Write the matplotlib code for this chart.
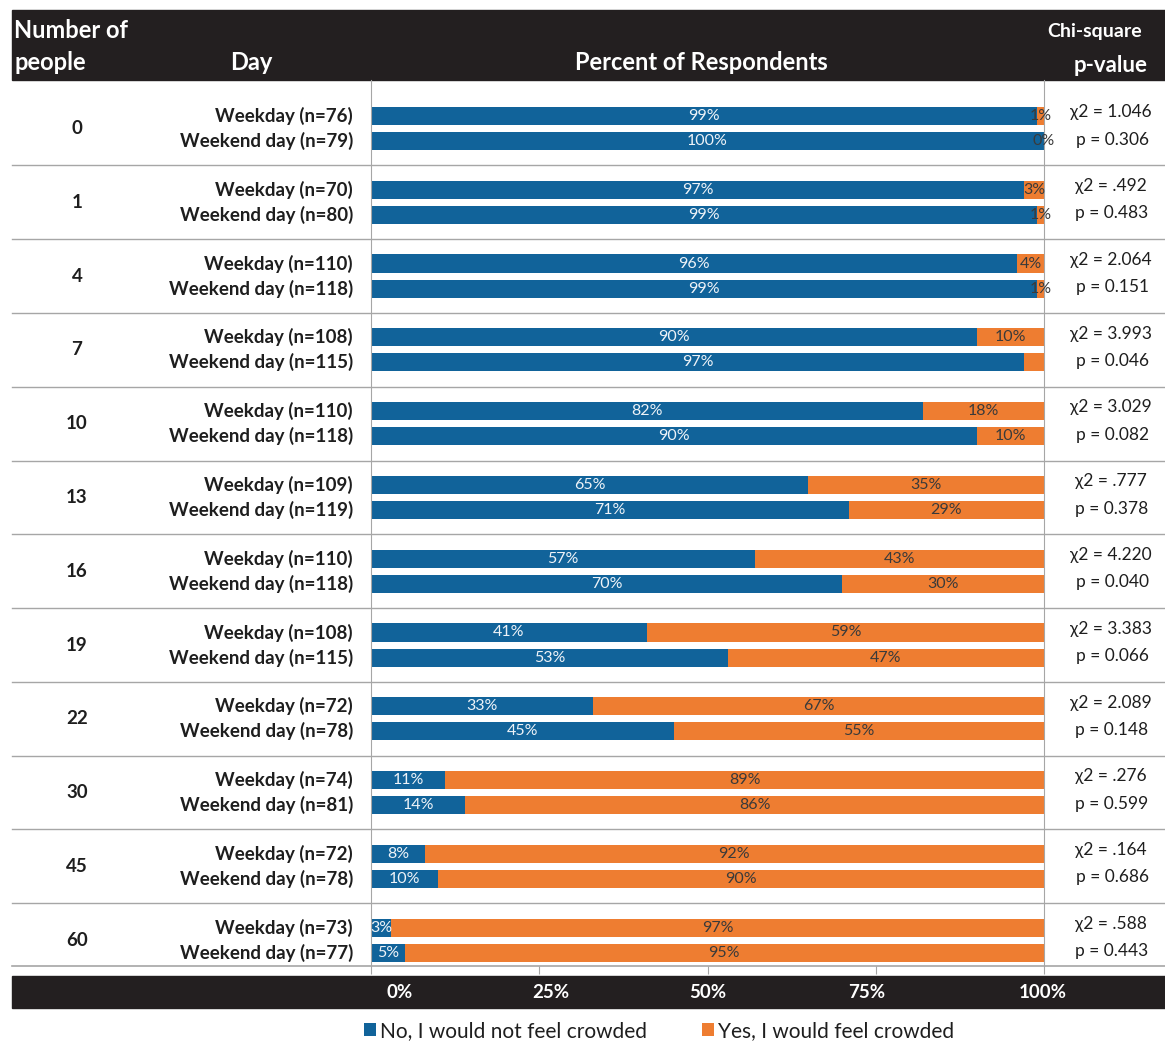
"""Crowding perception by number of people, weekday vs weekend."""
import matplotlib
matplotlib.use("Agg")
import matplotlib.pyplot as plt
from matplotlib import rcParams
from matplotlib import transforms
from matplotlib.patches import Rectangle

# ---- data -------------------------------------------------------------
people = ["0", "1", "4", "7", "10", "13", "16", "19", "22", "30", "45", "60"]
weekday_n = [76, 70, 110, 108, 110, 109, 110, 108, 72, 74, 72, 73]
weekend_n = [79, 80, 118, 115, 118, 119, 118, 115, 78, 81, 78, 77]
weekday_no = [99, 97, 96, 90, 82, 65, 57, 41, 33, 11, 8, 3]
weekday_yes = [1, 3, 4, 10, 18, 35, 43, 59, 67, 89, 92, 97]
weekend_no = [100, 99, 99, 97, 90, 71, 70, 53, 45, 14, 10, 5]
weekend_yes = [0, 1, 1, 3, 10, 29, 30, 47, 55, 86, 90, 95]
# the 3% segment for weekend / 7 people carries no label in the original
weekend_yes_shown = [True, True, True, False, True, True, True, True,
                     True, True, True, True]
chi_square = ["1.046", ".492", "2.064", "3.993", "3.029", ".777", "4.220",
              "3.383", "2.089", ".276", ".164", ".588"]
p_values = ["0.306", "0.483", "0.151", "0.046", "0.082", "0.378", "0.040",
            "0.066", "0.148", "0.599", "0.686", "0.443"]
ticks = [0, 25, 50, 75, 100]
tick_labels = ["0%", "25%", "50%", "75%", "100%"]
tick_label_pos = [4.3, 26.7, 50, 73.6, 99.8]
legend_labels = ["No, I would not feel crowded", "Yes, I would feel crowded"]

BLUE = "#11639a"
ORANGE = "#ee7d31"
DARK = "#231f20"
GRID = "#a6a6a6"
TXT = "#1e1e1e"

W, H = 1165, 1042
dpi = 100
rcParams.update({"font.family": ["Lato", "DejaVu Sans"]})
fig = plt.figure(figsize=(W / dpi, H / dpi), dpi=dpi)


def fx(px):
    return px / W


def fy(py):
    return 1 - py / H


# plot area: 0% at x=371, 100% at x=1044, top y=80, bottom y=966
ax = fig.add_axes([fx(371), fy(966), fx(1044) - fx(371), fy(80) - fy(966)])
ax.patch.set_alpha(0)
ax.set_xlim(0, 100)
ax.set_ylim(11.35, -0.657)

off = 0.17
h = 0.245
ys_wd = [i - off for i in range(len(people))]
ys_we = [i + off for i in range(len(people))]

b1 = ax.barh(ys_wd, weekday_no, height=h, color=BLUE, zorder=2)
ax.barh(ys_wd, weekday_yes, left=weekday_no, height=h, color=ORANGE, zorder=2)
ax.barh(ys_we, weekend_no, height=h, color=BLUE, zorder=2)
b2 = ax.barh(ys_we, weekend_yes, left=weekend_no, height=h, color=ORANGE,
             zorder=2)

lab_kw = dict(ha="center", va="center", fontsize=11.5, zorder=3)
for i in range(len(people)):
    for y, no, yes, show in ((ys_wd[i], weekday_no[i], weekday_yes[i], True),
                             (ys_we[i], weekend_no[i], weekend_yes[i],
                              weekend_yes_shown[i])):
        ax.text(no / 2, y, f"{no}%", color="#eef3f8", **lab_kw)
        if show:
            ax.text(no + yes / 2, y, f"{yes}%", color="#3a3a3a", **lab_kw)

# separators spanning the whole table width
for i in range(len(people) - 1):
    ax.axhline(i + 0.5, xmin=(12 - 371) / 673, xmax=(1165 - 371) / 673,
               color=GRID, lw=1, clip_on=False, zorder=1)
ax.axhline(11.35, xmin=(12 - 371) / 673, xmax=(1165 - 371) / 673,
           color=GRID, lw=1.2, clip_on=False, zorder=1)

for side in ("top", "bottom"):
    ax.spines[side].set_visible(False)
for side in ("left", "right"):
    ax.spines[side].set_color(GRID)
ax.set_xticks(ticks)
ax.set_xticklabels([])
ax.tick_params(axis="x", length=6, color=GRID, direction="out")
ax.set_yticks([])

# row labels
tr = transforms.blended_transform_factory(fig.transFigure, ax.transData)
for i in range(len(people)):
    ax.text(fx(77), i, people[i], transform=tr, ha="center", va="center",
            fontsize=13.5, fontweight="bold", color=TXT)
    ax.text(fx(353), ys_wd[i], f"Weekday (n={weekday_n[i]})", transform=tr,
            ha="right", va="center", fontsize=13.5, fontweight="bold",
            color=TXT)
    ax.text(fx(353), ys_we[i], f"Weekend day (n={weekend_n[i]})",
            transform=tr, ha="right", va="center", fontsize=13.5,
            fontweight="bold", color=TXT)
    ax.text(fx(1111), ys_wd[i] - 0.05, f"\u03c72 = {chi_square[i]}",
            transform=tr, ha="center", va="center", fontsize=12.5,
            color=TXT)
    ax.text(fx(1112), ys_we[i] - 0.02, f"p = {p_values[i]}", transform=tr,
            ha="center", va="center", fontsize=12.5, color=TXT)

# header bar
fig.patches.append(Rectangle((fx(12), fy(80)), fx(1165) - fx(12),
                             fy(10) - fy(80), transform=fig.transFigure,
                             color=DARK, zorder=-1))
hd = dict(color="white", fontweight="bold", fontsize=17, va="center")
fig.text(fx(14), fy(30), "Number of", ha="left", **hd)
fig.text(fx(14), fy(63), "people", ha="left", **hd)
fig.text(fx(251), fy(63), "Day", ha="center", **hd)
fig.text(fx(701), fy(63), "Percent of Respondents", ha="center", **hd)
fig.text(fx(1095), fy(32), "Chi-square", ha="center", color="white",
         fontweight="bold", fontsize=14, va="center")
fig.text(fx(1148), fy(65), "p-value", ha="right", color="white",
         fontweight="bold", fontsize=16, va="center")

# bottom axis bar
fig.patches.append(Rectangle((fx(12), fy(1008)), fx(1165) - fx(12),
                             fy(976) - fy(1008), transform=fig.transFigure,
                             color=DARK, zorder=-1))
trb = transforms.blended_transform_factory(ax.transData, fig.transFigure)
for pos, lab in zip(tick_label_pos, tick_labels):
    ax.text(pos, fy(993), lab, transform=trb, ha="center", va="center",
            color="white", fontweight="bold", fontsize=13.5, clip_on=False)

# legend
fig.legend([b1, b2], legend_labels, loc="center",
           bbox_to_anchor=(fx(659), fy(1031)), ncol=2, frameon=False,
           handlelength=0.6, handleheight=0.6, handletextpad=0.2,
           columnspacing=2.6, fontsize=15, labelcolor=TXT)

fig.savefig("out.png", dpi=dpi)
